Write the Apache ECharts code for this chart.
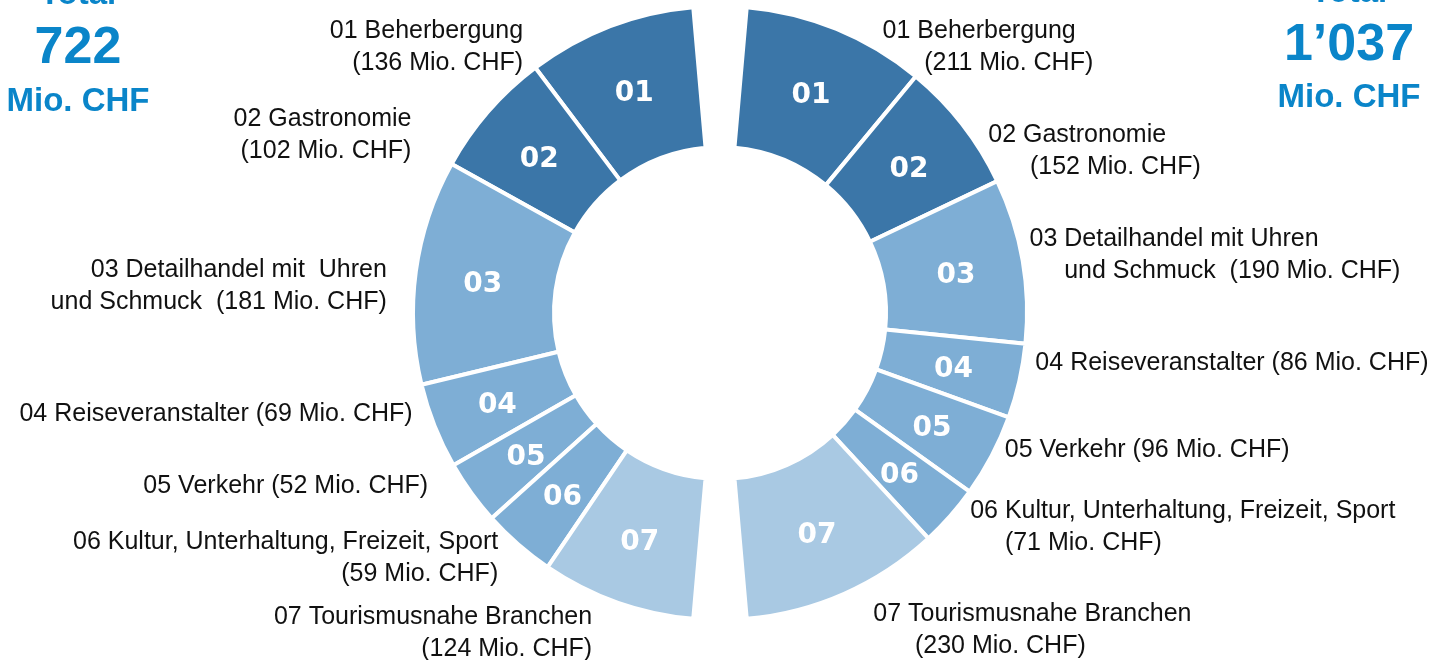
<!DOCTYPE html>
<html><head><meta charset="utf-8">
<script src="https://cdn.jsdelivr.net/npm/echarts@6/dist/echarts.min.js"></script>
<style>html,body{margin:0;padding:0;background:#fff}#c{width:1435px;height:660px}</style>
</head><body><div id="c"></div>
<script>
// ---- data ----
const codes = ['01', '02', '03', '04', '05', '06', '07'];
const categories = ['Beherbergung', 'Gastronomie', 'Detailhandel mit Uhren und Schmuck', 'Reiseveranstalter', 'Verkehr', 'Kultur, Unterhaltung, Freizeit, Sport', 'Tourismusnahe Branchen'];
const valuesLeft = [136, 102, 181, 69, 52, 59, 124];
const valuesRight = [211, 152, 190, 86, 96, 71, 230];
const totalLeft = '722';
const totalRight = '1\u2019037';
const unit = 'Mio. CHF';

// label text templates ({v} = value)
const labelTplLeft = [
  '01 Beherbergung\n({v} Mio. CHF)',
  '02 Gastronomie\n({v} Mio. CHF)',
  '03 Detailhandel mit  Uhren\nund Schmuck  ({v} Mio. CHF)',
  '04 Reiseveranstalter ({v} Mio. CHF)',
  '05 Verkehr ({v} Mio. CHF)',
  '06 Kultur, Unterhaltung, Freizeit, Sport\n({v} Mio. CHF)',
  '07 Tourismusnahe Branchen\n({v} Mio. CHF)'
];
const labelTplRight = [
  '01 Beherbergung\n      ({v} Mio. CHF)',
  '02 Gastronomie\n      ({v} Mio. CHF)',
  '03 Detailhandel mit Uhren\n     und Schmuck  ({v} Mio. CHF)',
  '04 Reiseveranstalter ({v} Mio. CHF)',
  '05 Verkehr ({v} Mio. CHF)',
  '06 Kultur, Unterhaltung, Freizeit, Sport\n     ({v} Mio. CHF)',
  '07 Tourismusnahe Branchen\n      ({v} Mio. CHF)'
];

// ---- styles / layout ----
const sliceColors = ['#3B76A8', '#3B76A8', '#7EAED5', '#7EAED5', '#7EAED5', '#7EAED5', '#A9C9E3'];
const nudgeLeft = [[-87, 21], [-77, 24], [-29, 15], [-22, -12], [-43, -7], [-20, 14], [-25, 31]];
const nudgeRight = [[46, 18], [26, 27], [7, -5], [16, -18], [13, -6], [20, 11], [29, 36]];
const totalColor = '#0A85C9';
const CENTER = [720, 313];
const RADIUS = [166, 307];
const FONT = 'Liberation Sans, Arial, sans-serif';

function ring(values, isLeft, tpl, nudge) {
  const base = {
    type: 'pie', center: CENTER, radius: RADIUS,
    startAngle: isLeft ? 95 : 85, endAngle: isLeft ? 265 : -85,
    clockwise: !isLeft, avoidLabelOverlap: false, animation: false, silent: true
  };
  const slices = Object.assign({}, base, {
    data: values.map((v, i) => ({ value: v, name: categories[i], itemStyle: { color: sliceColors[i] } })),
    itemStyle: { borderColor: '#ffffff', borderWidth: 4 },
    label: {
      show: true, position: 'inside', color: '#ffffff',
      fontFamily: 'DejaVu Sans, sans-serif', fontWeight: 'bold', fontSize: 28,
      formatter: p => codes[p.dataIndex]
    },
    labelLine: { show: false },
    labelLayout: () => ({ dy: 4 })
  });
  const texts = Object.assign({}, base, {
    data: values.map((v, i) => ({ value: v, name: categories[i] })),
    itemStyle: { color: 'rgba(0,0,0,0)', borderWidth: 0 },
    label: {
      show: true, position: 'outside', color: '#111111',
      fontFamily: FONT, fontSize: 25, lineHeight: 32,
      distanceToLabelLine: 0, alignTo: 'none',
      formatter: p => tpl[p.dataIndex].replace('{v}', values[p.dataIndex])
    },
    labelLine: { show: false, length: 0, length2: 0 },
    labelLayout: p => ({ dx: nudge[p.dataIndex][0], dy: nudge[p.dataIndex][1] })
  });
  return [slices, texts];
}

function totalBlock(x, total, yTotal, yVal, yUnit) {
  return [
    { type: 'text', x: x, y: yTotal, style: { text: 'Total', fill: totalColor, font: 'bold 33px ' + FONT, textAlign: 'center', textVerticalAlign: 'middle' } },
    { type: 'text', x: x, y: yVal, style: { text: total, fill: totalColor, font: 'bold 52px ' + FONT, textAlign: 'center', textVerticalAlign: 'middle' } },
    { type: 'text', x: x, y: yUnit, style: { text: unit, fill: totalColor, font: 'bold 33px ' + FONT, textAlign: 'center', textVerticalAlign: 'middle' } }
  ];
}

const chart = echarts.init(document.getElementById('c'), null, { renderer: 'canvas' });
chart.setOption({
  backgroundColor: '#ffffff',
  animation: false,
  series: [].concat(
    ring(valuesLeft, true, labelTplLeft, nudgeLeft),
    ring(valuesRight, false, labelTplRight, nudgeRight)
  ),
  graphic: [].concat(
    totalBlock(78, totalLeft, -5, 49, 102),
    totalBlock(1349, totalRight, -7, 46, 98)
  )
});
</script>
</body></html>
